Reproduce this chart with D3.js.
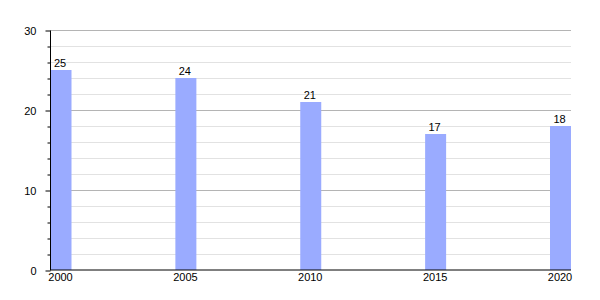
<!DOCTYPE html>
<html>
<head>
<meta charset="utf-8">
<script src="https://cdn.jsdelivr.net/npm/d3@7"></script>
<style>
  body { margin: 0; background: #fff; }
  text { font-family: "Liberation Sans", Arial, sans-serif; font-size: 11px; fill: #000; }
</style>
</head>
<body>
<svg id="chart" width="600" height="300"></svg>
<script>
var years  = [2000, 2005, 2010, 2015, 2020];
var values = [25, 24, 21, 17, 18];
var majorTicks = [0, 10, 20, 30];

var width = 600, height = 300;
var plotLeft = 50.5, plotRight = 571, plotTop = 30.5, plotBottom = 270.5;
var barWidth = 21;

var svg = d3.select("#chart");

var x = d3.scaleLinear().domain([2000, 2020]).range([plotLeft + 10.5, plotRight - 10.5]);
var y = d3.scaleLinear().domain([0, 30]).range([plotBottom, plotTop]);

// minor gridlines every 2
var minor = d3.range(2, 30, 2).filter(function (d) { return d % 10 !== 0; });
svg.append("g").selectAll("line").data(minor).enter().append("line")
  .attr("x1", plotLeft).attr("x2", plotRight)
  .attr("y1", function (d) { return Math.round(y(d) - 0.5) + 0.5; })
  .attr("y2", function (d) { return Math.round(y(d) - 0.5) + 0.5; })
  .attr("stroke", "#e2e2e2");

svg.append("g").selectAll("line").data(majorTicks.slice(1)).enter().append("line")
  .attr("x1", plotLeft).attr("x2", plotRight)
  .attr("y1", function (d) { return Math.round(y(d) - 0.5) + 0.5; })
  .attr("y2", function (d) { return Math.round(y(d) - 0.5) + 0.5; })
  .attr("stroke", "#b4b4b4");

// bars
svg.append("g").selectAll("rect").data(values).enter().append("rect")
  .attr("x", function (d, i) { return x(years[i]) - barWidth / 2; })
  .attr("y", function (d) { return y(d) - 0.5; })
  .attr("width", barWidth)
  .attr("height", function (d) { return plotBottom - y(d); })
  .attr("fill", "#9aabff");

// value labels
svg.append("g").selectAll("text").data(values).enter().append("text")
  .attr("x", function (d, i) { return x(years[i]) - 1; })
  .attr("y", function (d) { return y(d) - 4; })
  .attr("text-anchor", "middle")
  .text(function (d) { return d; });

// y axis
var yAxis = d3.axisLeft(y).tickValues(majorTicks).tickSize(5).tickPadding(9).tickFormat(d3.format("d"));
var gy = svg.append("g").attr("transform", "translate(" + plotLeft + ",0)").call(yAxis);
gy.select(".domain").remove();
gy.selectAll("text").style("font-size", "11px").style("font-family", "Liberation Sans, Arial, sans-serif");
var yMinor = d3.axisLeft(y).tickValues(minor).tickSize(3).tickFormat("");
var gym = svg.append("g").attr("transform", "translate(" + plotLeft + ",0)").call(yMinor);
gym.select(".domain").remove();
svg.append("line").attr("x1", plotLeft).attr("x2", plotLeft).attr("y1", plotTop).attr("y2", plotBottom).attr("stroke", "#000");

// x axis
var xAxis = d3.axisBottom(x).tickValues(years).tickSize(0).tickPadding(3).tickFormat(d3.format("d"));
var gx = svg.append("g").attr("transform", "translate(-1," + plotBottom + ")").call(xAxis);
gx.select(".domain").remove();
gx.selectAll("text").style("font-size", "11px").style("font-family", "Liberation Sans, Arial, sans-serif");
svg.append("line").attr("x1", plotLeft).attr("x2", plotRight).attr("y1", plotBottom - 0.5).attr("y2", plotBottom - 0.5).attr("stroke", "#000");
</script>
</body>
</html>
